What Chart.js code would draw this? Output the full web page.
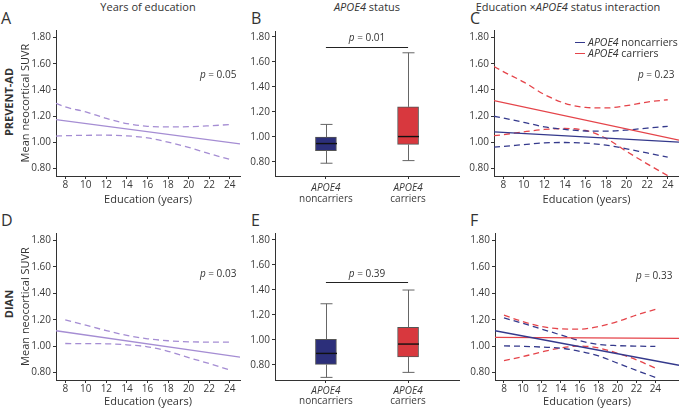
<!DOCTYPE html>
<html>
<head>
<meta charset="utf-8">
<script src="https://cdn.jsdelivr.net/npm/chart.js@4.4.1/dist/chart.umd.min.js"></script>
<style>
  body { margin: 0; background: #fff; font-family: 'Open Sans', sans-serif; color: #333; }
  #wrap { position: relative; width: 679px; height: 409px; overflow: hidden; }
  canvas { position: absolute; }
  .ttl { position: absolute; top: 0; font-size: 11px; line-height: 14px; white-space: nowrap; transform: translateX(-50%); }
  .let { position: absolute; font-size: 16px; line-height: 16px; }
  .row { position: absolute; font-weight: bold; font-size: 11px; line-height: 14px; white-space: nowrap; transform: translate(-50%, -50%) rotate(-90deg); }
  .legline { position: absolute; width: 10px; height: 1.3px; }
  .legtxt { position: absolute; font-size: 10.5px; line-height: 12px; white-space: nowrap; }
</style>
</head>
<body>
<div id="wrap">
  <div class="ttl" style="left:148px">Years of education</div>
  <div class="ttl" style="left:367px"><i>APOE4</i> status</div>
  <div class="ttl" style="left:568px">Education ×<i>APOE4</i> status interaction</div>

  <div class="let" style="left:1px;top:10px">A</div>
  <div class="let" style="left:251px;top:10px">B</div>
  <div class="let" style="left:470px;top:10px">C</div>
  <div class="let" style="left:1px;top:212px">D</div>
  <div class="let" style="left:251px;top:212px">E</div>
  <div class="let" style="left:470px;top:212px">F</div>

  <div class="row" style="left:8.5px;top:102px">PREVENT-AD</div>
  <div class="row" style="left:8.5px;top:304px">DIAN</div>

  <canvas id="cA" width="245" height="186" style="left:0;top:22px"></canvas>
  <canvas id="cB" width="220" height="186" style="left:240px;top:22px"></canvas>
  <canvas id="cC" width="224" height="186" style="left:455px;top:22px"></canvas>
  <canvas id="cD" width="245" height="187" style="left:0;top:222px"></canvas>
  <canvas id="cE" width="220" height="187" style="left:240px;top:222px"></canvas>
  <canvas id="cF" width="224" height="187" style="left:455px;top:222px"></canvas>

  <div class="legline" style="left:575px;top:42px;background:#34398c"></div>
  <div class="legtxt" style="left:588px;top:36px"><i>APOE4</i> noncarriers</div>
  <div class="legline" style="left:575px;top:53px;background:#e5444a"></div>
  <div class="legtxt" style="left:588px;top:47px"><i>APOE4</i> carriers</div>
</div>

<script>
// tick labels
const yTicks = [0.8, 1.0, 1.2, 1.4, 1.6, 1.8];
const eduTicks = [8, 10, 12, 14, 16, 18, 20, 22, 24];
const groupNames = ['noncarriers', 'carriers'];
const boxX = [1, 2];

// PREVENT-AD, years of education (A)
const eduA = [7.1, 8, 10, 12, 14, 16, 18, 20, 22, 24];
const fitXA = [7.1, 25];
const fitA = [1.173, 0.988];
const upperA = [1.298, 1.27, 1.232, 1.182, 1.143, 1.122, 1.117, 1.119, 1.126, 1.135];
const lowerA = [1.047, 1.05, 1.053, 1.054, 1.049, 1.033, 1.001, 0.961, 0.913, 0.869];

// PREVENT-AD, APOE4 status (B): noncarriers, carriers
const minB = [0.79, 0.811];
const q1B = [0.891, 0.94];
const medB = [0.947, 1.003];
const q3B = [0.998, 1.24];
const maxB = [1.10, 1.672];

// PREVENT-AD, interaction (C)
const eduC = [7.1, 8, 10, 12, 14, 16, 18, 20, 22, 24];
const fitXC = [7.1, 25.1];
const fitCnon = [1.079, 1.001];
const fitCcar = [1.318, 1.016];
const upperCnon = [1.199, 1.185, 1.152, 1.118, 1.098, 1.086, 1.085, 1.093, 1.108, 1.122];
const lowerCnon = [0.963, 0.968, 0.982, 0.995, 0.998, 0.993, 0.978, 0.950, 0.918, 0.887];
const upperCcar = [1.579, 1.54, 1.46, 1.365, 1.298, 1.266, 1.262, 1.280, 1.307, 1.325];
const lowerCcar = [1.05, 1.058, 1.08, 1.098, 1.105, 1.09, 1.03, 0.93, 0.835, 0.745];

// DIAN, years of education (D)
const eduD = [8, 10, 12, 14, 16, 18, 20, 22, 24];
const fitXD = [7.1, 25];
const fitD = [1.116, 0.915];
const upperD = [1.198, 1.158, 1.117, 1.081, 1.055, 1.040, 1.032, 1.030, 1.030];
const lowerD = [1.019, 1.018, 1.017, 1.009, 0.994, 0.960, 0.912, 0.867, 0.818];

// DIAN, APOE4 status (E)
const minE = [0.699, 0.739];
const q1E = [0.803, 0.862];
const medE = [0.891, 0.966];
const q3E = [1.004, 1.10];
const maxE = [1.289, 1.399];

// DIAN, interaction (F)
const eduF = [8, 10, 12, 14, 16, 18, 20, 22, 24];
const fitXF = [7.05, 26.5];
const fitFnon = [1.116, 0.854];
const fitFcar = [1.065, 1.058];
const upperFnon = [1.213, 1.172, 1.128, 1.084, 1.04, 1.012, 1.003, 0.999, 0.997];
const lowerFnon = [1.001, 0.998, 0.992, 0.984, 0.96, 0.925, 0.87, 0.815, 0.762];
const upperFcar = [1.234, 1.185, 1.148, 1.13, 1.128, 1.148, 1.185, 1.235, 1.278];
const lowerFcar = [0.889, 0.92, 0.955, 0.985, 1.0, 0.985, 0.945, 0.895, 0.832];

const purple = '#a58dd3';
const navy = '#34398c';
const red = '#e5444a';
const axisColor = '#333';

Chart.defaults.font.family = "'Open Sans', sans-serif";
Chart.defaults.color = '#3a3a3a';
Chart.defaults.animation = false;

function drawP(ctx, x, y, rest, align) {
    ctx.font = 'italic 10px "Open Sans"';
    const wp = ctx.measureText('p').width;
    ctx.font = '10px "Open Sans"';
    const wr = ctx.measureText(rest).width;
    const left = align === 'right' ? x - wp - wr : x - (wp + wr) / 2;
    ctx.textBaseline = 'middle';
    ctx.textAlign = 'left';
    ctx.fillStyle = '#333';
    ctx.font = 'italic 10px "Open Sans"';
    ctx.fillText('p', left, y);
    ctx.font = '10px "Open Sans"';
    ctx.fillText(rest, left + wp, y);
}

// whiskers, medians, bracket and p value, all placed through the scales
const extras = {
    id: 'extras',
    afterDatasetsDraw(chart, args, o) {
        const ctx = chart.ctx, xs = chart.scales.x, ys = chart.scales.y;
        ctx.save();
        if (o.box) {
            const b = o.box;
            b.xs.forEach((xv, i) => {
                const px = Math.round(xs.getPixelForValue(xv)) + 0.5;
                ctx.strokeStyle = '#666';
                ctx.lineWidth = 1;
                ctx.beginPath();
                ctx.moveTo(px, ys.getPixelForValue(b.mins[i]));
                ctx.lineTo(px, ys.getPixelForValue(b.q1[i]));
                ctx.moveTo(px, ys.getPixelForValue(b.q3[i]));
                ctx.lineTo(px, ys.getPixelForValue(b.maxs[i]));
                ctx.moveTo(px - 6, ys.getPixelForValue(b.mins[i]));
                ctx.lineTo(px + 6, ys.getPixelForValue(b.mins[i]));
                ctx.moveTo(px - 6, ys.getPixelForValue(b.maxs[i]));
                ctx.lineTo(px + 6, ys.getPixelForValue(b.maxs[i]));
                ctx.stroke();
                ctx.strokeStyle = '#111';
                ctx.lineWidth = 1.4;
                ctx.beginPath();
                ctx.moveTo(px - 10.5, ys.getPixelForValue(b.meds[i]));
                ctx.lineTo(px + 10.5, ys.getPixelForValue(b.meds[i]));
                ctx.stroke();
            });
        }
        if (o.bracket) {
            const yb = Math.round(ys.getPixelForValue(o.bracket.y)) + 0.5;
            ctx.strokeStyle = '#222';
            ctx.lineWidth = 1;
            ctx.beginPath();
            ctx.moveTo(xs.getPixelForValue(o.bracket.from), yb);
            ctx.lineTo(xs.getPixelForValue(o.bracket.to), yb);
            ctx.stroke();
        }
        if (o.p) {
            drawP(ctx, xs.getPixelForValue(o.p.x), ys.getPixelForValue(o.p.y), o.p.text, o.p.align);
        }
        ctx.restore();
    }
};

function yScale(min, max, width, title) {
    return {
        min: min,
        max: max,
        afterBuildTicks: s => { s.ticks = yTicks.map(v => ({ value: v })); },
        afterFit: s => { s.width = width; },
        ticks: { callback: v => v.toFixed(2), font: { size: 10 }, padding: 2 },
        grid: { drawOnChartArea: false, tickLength: 3, color: axisColor },
        border: { color: axisColor },
        title: { display: !!title, text: title || '', font: { size: 11 }, color: '#333', padding: { top: 19.4, bottom: 0 } }
    };
}

function eduScale(min, max, height, titlePad) {
    return {
        type: 'linear',
        min: min,
        max: max,
        afterBuildTicks: s => { s.ticks = eduTicks.map(v => ({ value: v })); },
        afterFit: s => { s.height = height; },
        ticks: { font: { size: 10, lineHeight: 1 }, padding: 1, maxRotation: 0, autoSkip: false },
        grid: { drawOnChartArea: false, tickLength: 3, color: axisColor },
        border: { color: axisColor },
        title: { display: true, text: 'Education (years)', font: { size: 11 }, color: '#333', padding: { top: 0, bottom: titlePad } }
    };
}

function series(xs, ys, color, dashed) {
    return {
        data: xs.map((x, i) => ({ x: x, y: ys[i] })),
        borderColor: color,
        borderWidth: 1.3,
        borderDash: dashed ? [6, 4] : [],
        pointRadius: 0,
        cubicInterpolationMode: 'monotone',
        fill: false
    };
}

function linePanel(id, datasets, xr, yr, yWidth, yTitle, pad, xHeight, titlePad, p) {
    new Chart(document.getElementById(id).getContext('2d'), {
        type: 'line',
        data: { datasets: datasets },
        options: {
            responsive: false,
            layout: { padding: pad, autoPadding: false },
            plugins: { legend: { display: false }, tooltip: { enabled: false }, extras: { p: p } },
            scales: {
                x: eduScale(xr[0], xr[1], xHeight, titlePad),
                y: yScale(yr[0], yr[1], yWidth, yTitle)
            }
        },
        plugins: [extras]
    });
}

function boxPanel(id, mins, q1, meds, q3, maxs, yr, pad, h1, h2, pads, bracket, p) {
    new Chart(document.getElementById(id).getContext('2d'), {
        type: 'bar',
        data: {
            datasets: [{
                data: boxX.map((x, i) => ({ x: x, y: [q1[i], q3[i]] })),
                backgroundColor: ['#2c2f7a', '#d8383e'],
                borderColor: '#555',
                borderWidth: 1,
                borderSkipped: false,
                barThickness: 21
            }]
        },
        options: {
            responsive: false,
            layout: { padding: pad, autoPadding: false },
            plugins: {
                legend: { display: false },
                tooltip: { enabled: false },
                extras: { box: { xs: boxX, mins: mins, q1: q1, meds: meds, q3: q3, maxs: maxs }, bracket: bracket, p: p }
            },
            scales: {
                x: {
                    type: 'linear', min: 0.38, max: 2.62, offset: false, weight: 0,
                    afterBuildTicks: s => { s.ticks = boxX.map(v => ({ value: v })); },
                    afterFit: s => { s.height = h1; },
                    ticks: { callback: () => 'APOE4', font: { size: 10, style: 'italic', lineHeight: 1 }, padding: pads[0], maxRotation: 0, autoSkip: false },
                    grid: { drawOnChartArea: false, offset: false, tickLength: 3, color: axisColor },
                    border: { color: axisColor }
                },
                x2: {
                    type: 'linear', position: 'bottom', min: 0.38, max: 2.62, offset: false, weight: 1,
                    afterBuildTicks: s => { s.ticks = boxX.map(v => ({ value: v })); },
                    afterFit: s => { s.height = h2; },
                    ticks: { callback: (v, i) => groupNames[i], font: { size: 10, lineHeight: 1 }, padding: pads[1], maxRotation: 0, autoSkip: false },
                    grid: { display: false, drawTicks: false, tickLength: 0 },
                    border: { display: false }
                },
                y: yScale(yr[0], yr[1], 35, '')
            }
        },
        plugins: [extras]
    });
}

// A
linePanel('cA', [
    series(fitXA, fitA, purple, false),
    series(eduA, upperA, purple, true),
    series(eduA, lowerA, purple, true)
], [7.1, 25], [0.742, 1.858], 56, 'Mean neocortical SUVR', { top: 8, right: 5 }, 32, 2, { x: 24.65, y: 1.515, text: ' = 0.05', align: 'right' });

// B
boxPanel('cB', minB, q1B, medB, q3B, maxB, [0.688, 1.846], { top: 9, right: 1 }, 16, 16, [4, 2],
    { y: 1.715, from: 1, to: 2 }, { x: 1.5, y: 1.787, text: ' = 0.01', align: 'center' });

// C
linePanel('cC', [
    series(fitXC, fitCnon, navy, false),
    series(fitXC, fitCcar, red, false),
    series(eduC, upperCnon, navy, true),
    series(eduC, lowerCnon, navy, true),
    series(eduC, upperCcar, red, true),
    series(eduC, lowerCcar, red, true)
], [7.1, 25.1], [0.742, 1.858], 39, '', { top: 8, right: 0 }, 32, 2, { x: 24.65, y: 1.515, text: ' = 0.23', align: 'right' });

// D
linePanel('cD', [
    series(fitXD, fitD, purple, false),
    series(eduD, upperD, purple, true),
    series(eduD, lowerD, purple, true)
], [7.1, 25], [0.742, 1.858], 56, 'Mean neocortical SUVR', { top: 11, right: 5 }, 29, 1, { x: 24.65, y: 1.544, text: ' = 0.03', align: 'right' });

// E
boxPanel('cE', minE, q1E, medE, q3E, maxE, [0.678, 1.856], { top: 11, right: 1 }, 15, 14, [3, 1.5],
    { y: 1.463, from: 1, to: 2 }, { x: 1.5, y: 1.526, text: ' = 0.39', align: 'center' });

// F
linePanel('cF', [
    series(fitXF, fitFnon, navy, false),
    series(fitXF, fitFcar, red, false),
    series(eduF, upperFnon, navy, true),
    series(eduF, lowerFnon, navy, true),
    series(eduF, upperFcar, red, true),
    series(eduF, lowerFcar, red, true)
], [7.05, 26.5], [0.742, 1.858], 40, '', { top: 11, right: 0 }, 29, 1, { x: 25.8, y: 1.527, text: ' = 0.33', align: 'right' });
</script>
</body>
</html>
